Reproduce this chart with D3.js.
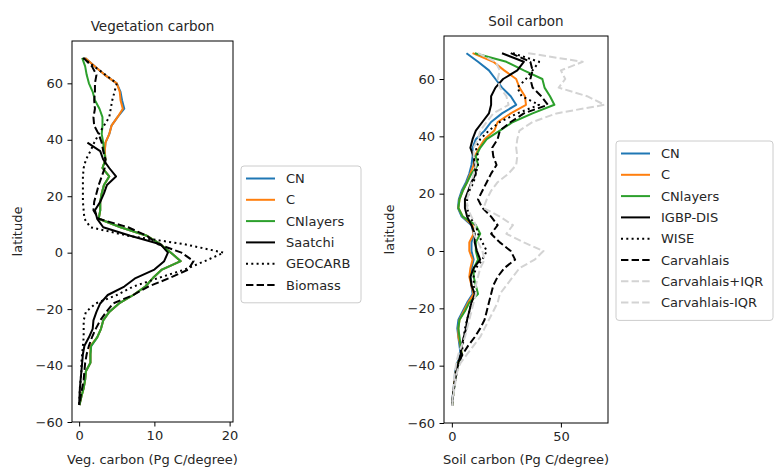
<!DOCTYPE html>
<html>
<head>
<meta charset="utf-8">
<script src="https://cdn.jsdelivr.net/npm/d3@7"></script>
<style>
  body { margin: 0; background: #fff; }
  svg { display: block; font-family: "DejaVu Sans", sans-serif; }
  .tick text { font-size: 13px; fill: #262626; }
</style>
</head>
<body>
<div id="chart"></div>
<script>
// latitude grid shared by every profile (degrees north)
const lat = [69, 66, 63, 60, 57, 54, 51, 48, 45, 42, 39, 36, 33, 30, 27, 24, 21, 18, 15, 12,
             9, 6, 3, 0, -3, -6, -9, -12, -15, -18, -21, -24, -27, -30, -33, -36, -39, -42, -45, -48, -51, -54];

// vegetation carbon (Pg C / degree)
const vegCN = [0.8, 2.1, 3.4, 5.0, 5.5, 5.7, 6.0, 5.1, 4.3, 4.0, 3.5, 3.4, 3.5, 3.1, 4.0, 3.3, 3.0, 2.8, 2.8, 2.6,
               5.5, 9.0, 10.8, 12.2, 13.5, 11.0, 9.8, 8.8, 7.2, 5.3, 4.0, 3.2, 2.9, 2.4, 1.6, 1.5, 1.5, 0.9, 0.8, 0.6, 0.3, 0.05];
const vegC = [0.8, 2.1, 3.4, 5.0, 5.4, 5.5, 5.8, 5.1, 4.3, 4.0, 3.5, 3.4, 3.5, 3.1, 4.0, 3.3, 3.0, 2.8, 2.8, 2.6,
              5.5, 9.0, 10.8, 12.2, 13.5, 11.0, 9.8, 8.8, 7.2, 5.3, 4.0, 3.2, 2.9, 2.4, 1.5, 1.5, 1.5, 0.9, 0.8, 0.6, 0.3, 0.05];
const vegCNlayers = [0.4, 0.8, 1.0, 1.3, 1.8, 2.1, 2.7, 3.1, 3.1, 3.0, 3.2, 3.3, 3.5, 3.1, 4.0, 3.3, 3.0, 2.8, 2.8, 2.6,
                     5.5, 9.0, 10.8, 12.2, 13.5, 11.0, 9.8, 8.8, 7.2, 5.3, 4.0, 3.2, 2.9, 2.4, 1.6, 1.5, 1.5, 0.9, 0.8, 0.6, 0.3, 0.05];
const vegSaatchi = [null, null, null, null, null, null, null, null, null, null,
                    1.1, 2.8, 3.2, 4.0, 4.9, 3.7, 3.3, 2.8, 2.1, 2.4,
                    3.2, 6.8, 10.8, 11.8, 11.3, 10.0, 7.5, 6.0, 3.8, 2.8, 2.3, 1.9, 1.8, 1.3, 0.7, 0.5, 0.4, 0.3, 0.2, 0.1, 0.05, 0];
const vegGeocarb = [0.5, 2.0, 3.5, 5.0, 4.7, 4.4, 4.2, 4.0, 3.3, 2.6, 2.0, 1.5, 0.9, 0.6, 0.5, 0.5, 0.5, 0.5, 0.6, 0.7,
                    1.5, 6.5, 14.0, 19.2, 16.7, 14.0, 10.5, 7.2, 5.0, 2.2, 0.9, 0.6, 0.6, 0.6, 0.5, 0.4, 0.3, 0.3, 0.2, 0.1, 0.05, 0];
const vegBiomass = [0.6, 1.7, 2.3, 2.1, 2.1, 2.0, 2.1, 1.9, 2.0, 2.6, 3.0, 3.2, 3.5, 3.4, 3.0, 2.6, 2.3, 2.0, 1.9, 2.6,
                    6.5, 9.0, 10.5, 13.6, 15.2, 14.5, 12.0, 9.2, 7.2, 4.5, 3.6, 2.8, 2.2, 1.7, 1.3, 1.0, 0.8, 0.7, 0.6, 0.4, 0.2, 0.05];

// soil carbon (Pg C / degree)
const soilCN = [6.7, 12, 17, 20, 23, 27, 29.5, 23, 18, 15, 11, 9.5, 9.5, 9, 8, 6.5, 4.5, 3.2, 2.8, 4.5,
                9, 10, 9, 9, 10, 9, 8.5, 9, 9.5, 7, 5, 3, 2.5, 3, 3.5, 4, 2.5, 1.5, 1.2, 0.8, 0.4, 0.1];
const soilC = [9.5, 19, 24, 29.5, 31, 33.5, 34, 27, 21, 19.5, 15, 12.5, 10.5, 10, 8.5, 7, 5, 3.5, 3, 5,
               9.5, 10, 8, 8, 9.5, 8.5, 8, 9, 10, 7.5, 5.5, 3.5, 3, 3, 4, 4.5, 2.8, 1.8, 1.3, 0.9, 0.5, 0.1];
const soilCNlayers = [10.5, 25, 33, 41.5, 42.5, 45, 47, 37, 28, 22, 16, 13, 11, 12, 9, 7, 5, 3.5, 3, 5,
                      11, 13, 11, 11, 12, 10, 10, 11, 12, 8, 6, 3.5, 3, 3.5, 4, 4.5, 3, 2, 1.5, 1, 0.5, 0.1];
const soilIGBP = [23, 33, 30, 23.5, 20, 18, 18, 17, 14, 11, 9.5, 8.5, 10, 10.5, 11, 9, 7.5, 6, 6, 7,
                  9, 10.5, 10.5, 11.5, 13, 10, 8.5, 9, 10.5, 9, 8, 7, 6.5, 5.5, 4.5, 4, 3, 2, 1.4, 0.8, 0.4, 0.1];
const soilWISE = [28, 40, 37, 34, 30, 32, 40, 30, 22, 17, 13, 11, 12, 12, 11, 10, 8, 7, 7, 8,
                  11, 12, 14, 16, 14, 11, 10, 10, 11, 9, 8, 7, 6, 5.5, 5, 4.5, 3.5, 2.5, 1.8, 1, 0.5, 0.1];
const soilCarv = [27, 36, 37, 36, 37, 41, 44, 33, 27, 22, 21, 18.5, 19, 20.5, 18, 16, 14, 12, 14, 18,
                  21, 18, 22, 27, 29, 24, 21, 19, 18, 17, 16, 15, 13, 10.5, 7.5, 5, 3, 2, 1.5, 1, 0.5, 0.1];
const soilCarvHi = [35, 60, 50, 52, 49, 62, 70, 48, 37, 31, 30, 29.5, 30, 29.5, 26, 21, 18, 16, 14.5, 22,
                    28, 25, 33, 42, 38, 31, 28, 25, 22, 21, 19, 17, 15, 13, 10, 7, 4, 2.5, 1.8, 1.2, 0.6, 0.1];
const soilCarvLo = [12, 20, 22, 21, 22, 25, 26, 19, 16, 13, 12, 10, 10, 11, 10, 9, 8, 7, 7, 9,
                    11, 10, 12, 14, 15, 13, 12, 11, 11, 10, 9, 8, 7, 6, 4.5, 3, 2, 1.5, 1, 0.7, 0.4, 0.1];

const latTicks = [-60, -40, -20, 0, 20, 40, 60];
const vegTicks = [0, 10, 20];
const soilTicks = [0, 50];

// line styles (matplotlib defaults)
const BLUE = "#1f77b4", ORANGE = "#ff7f0e", GREEN = "#2ca02c", GREY = "lightgray";
const DOT = "2,3.3", DASH = "7.4,3.2";

const W = 776, H = 471;
const svg = d3.select("#chart").append("svg").attr("width", W).attr("height", H);

function panel(opt) {
    const x = d3.scaleLinear().domain(opt.xDomain).range([opt.left, opt.right]);
    const y = d3.scaleLinear().domain([-60, 75]).range([opt.bottom, opt.top]);
    const g = svg.append("g");

    const clipId = "clip-" + opt.id;
    g.append("clipPath").attr("id", clipId)
        .append("rect")
        .attr("x", opt.left).attr("y", opt.top)
        .attr("width", opt.right - opt.left).attr("height", opt.bottom - opt.top);

    const line = d3.line()
        .defined(d => d.v != null)
        .x(d => x(d.v))
        .y(d => y(d.lat));

    const plot = g.append("g").attr("clip-path", `url(#${clipId})`);
    opt.series.forEach(s => {
        const pts = lat.map((l, i) => ({ lat: l, v: s.values[i] }));
        plot.append("path")
            .attr("d", line(pts))
            .attr("fill", "none")
            .attr("stroke", s.color)
            .attr("stroke-width", 2)
            .attr("stroke-dasharray", s.dash || null)
            .attr("stroke-linejoin", "round");
    });

    // axes
    const xAxis = g.append("g")
        .attr("transform", `translate(0,${opt.bottom})`)
        .call(d3.axisBottom(x).tickValues(opt.xTicks).tickSize(4.5).tickPadding(4.5).tickSizeOuter(0));
    const yAxis = g.append("g")
        .attr("transform", `translate(${opt.left},0)`)
        .call(d3.axisLeft(y).tickValues(latTicks).tickSize(4.5).tickPadding(4.5).tickSizeOuter(0));
    [xAxis, yAxis].forEach(a => {
        a.select(".domain").remove();
        a.selectAll(".tick line").attr("stroke", "#000").attr("stroke-width", 1);
        a.selectAll(".tick text").style("font-family", "DejaVu Sans");
    });

    g.append("rect")
        .attr("x", opt.left).attr("y", opt.top)
        .attr("width", opt.right - opt.left).attr("height", opt.bottom - opt.top)
        .attr("fill", "none").attr("stroke", "#000").attr("stroke-width", 1);

    g.append("text")
        .attr("x", (opt.left + opt.right) / 2).attr("y", opt.top - 10)
        .attr("text-anchor", "middle")
        .attr("font-size", 13.5).attr("fill", "#262626")
        .text(opt.title);

    g.append("text")
        .attr("x", (opt.left + opt.right) / 2).attr("y", 464)
        .attr("text-anchor", "middle")
        .attr("font-size", 13).attr("fill", "#262626")
        .text(opt.xLabel);

    g.append("text")
        .attr("transform", `translate(${opt.left - 50},${(opt.top + opt.bottom) / 2}) rotate(-90)`)
        .attr("text-anchor", "middle")
        .attr("font-size", 13).attr("fill", "#262626")
        .text("latitude");

    // legend
    const lg = opt.legend;
    const rowH = 21.3;
    const lgG = g.append("g");
    lgG.append("rect")
        .attr("x", lg.x).attr("y", lg.y)
        .attr("width", lg.w).attr("height", opt.series.length * rowH + 9)
        .attr("rx", 3)
        .attr("fill", "#fff").attr("fill-opacity", 0.8)
        .attr("stroke", "#ccc").attr("stroke-width", 1);
    opt.series.forEach((s, i) => {
        const cy = lg.y + 12.5 + i * rowH;
        lgG.append("line")
            .attr("x1", lg.x + 5).attr("x2", lg.x + 34)
            .attr("y1", cy).attr("y2", cy)
            .attr("stroke", s.color).attr("stroke-width", 2)
            .attr("stroke-dasharray", s.dash || null);
        lgG.append("text")
            .attr("x", lg.x + 45).attr("y", cy)
            .attr("dy", "0.35em")
            .attr("font-size", 13).attr("fill", "#262626")
            .text(s.name);
    });
}

panel({
    id: "veg",
    left: 72, right: 233, top: 41, bottom: 422,
    xDomain: [-0.95, 20.45],
    xTicks: vegTicks,
    title: "Vegetation carbon",
    xLabel: "Veg. carbon (Pg C/degree)",
    legend: { x: 241, y: 166, w: 120 },
    series: [
        { name: "CN", values: vegCN, color: BLUE },
        { name: "C", values: vegC, color: ORANGE },
        { name: "CNlayers", values: vegCNlayers, color: GREEN },
        { name: "Saatchi", values: vegSaatchi, color: "#000" },
        { name: "GEOCARB", values: vegGeocarb, color: "#000", dash: DOT },
        { name: "Biomass", values: vegBiomass, color: "#000", dash: DASH }
    ]
});

panel({
    id: "soil",
    left: 444, right: 608, top: 36, bottom: 423,
    xDomain: [-3.6, 71.6],
    xTicks: soilTicks,
    title: "Soil carbon",
    xLabel: "Soil carbon (Pg C/degree)",
    legend: { x: 616, y: 141, w: 157 },
    series: [
        { name: "CN", values: soilCN, color: BLUE },
        { name: "C", values: soilC, color: ORANGE },
        { name: "CNlayers", values: soilCNlayers, color: GREEN },
        { name: "IGBP-DIS", values: soilIGBP, color: "#000" },
        { name: "WISE", values: soilWISE, color: "#000", dash: DOT },
        { name: "Carvahlais", values: soilCarv, color: "#000", dash: DASH },
        { name: "Carvahlais+IQR", values: soilCarvHi, color: GREY, dash: DASH },
        { name: "Carvahlais-IQR", values: soilCarvLo, color: GREY, dash: DASH }
    ]
});
</script>
</body>
</html>
